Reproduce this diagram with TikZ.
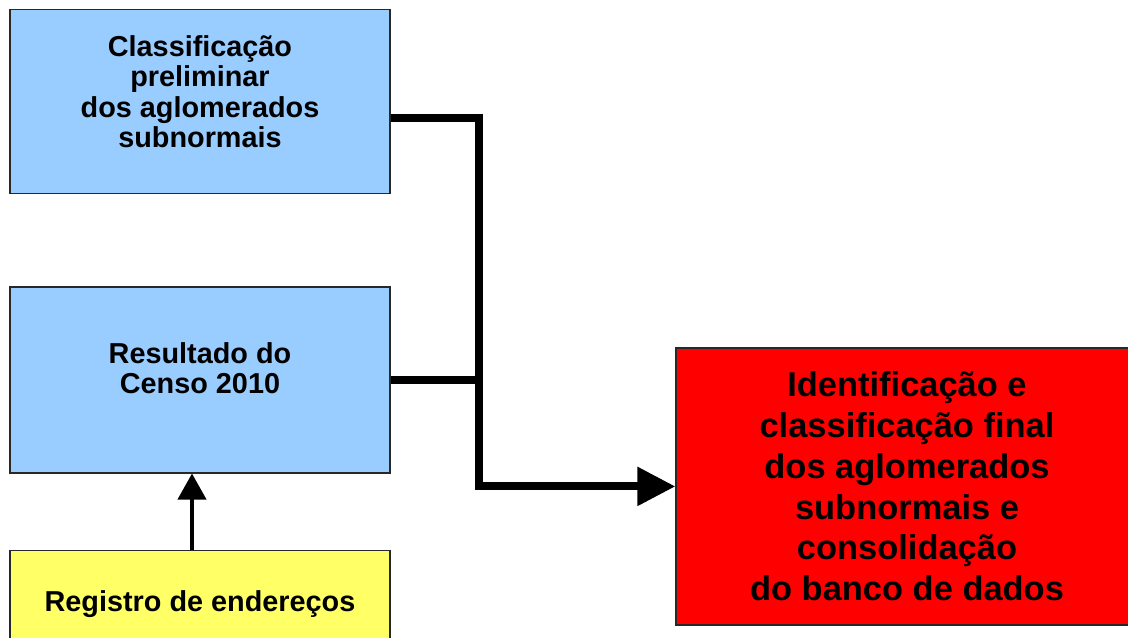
\documentclass[tikz,border=0pt]{standalone}
\usepackage{fontspec}
\setmainfont{Liberation Sans}
\definecolor{lightblue}{RGB}{153, 204, 255}
\definecolor{paleyellow}{RGB}{255, 255, 102}
\definecolor{brightred}{RGB}{255, 0, 0}
\definecolor{edgegray}{RGB}{40, 40, 40}
\usetikzlibrary{arrows.meta, positioning}

\begin{document}
\begin{tikzpicture}[
    box/.style={rectangle, draw=edgegray, line width=0.9pt, fill=lightblue,
                minimum width=9.5cm, align=center,
                font=\fontsize{20.5}{21.5}\selectfont\bfseries},
    conn/.style={line width=0.2cm, color=black},
    arr/.style={-{Triangle[length=0.65cm, width=0.7cm]}, line width=2.8pt, color=black}
  ]
    \useasboundingbox (0,0) rectangle (28.2,-15.925);

    \node[box, minimum height=4.6cm, text depth=0.5cm] (cls) at (5.0,-2.54)
      {Classificação\\preliminar\\dos aglomerados\\subnormais};
    \node[box, minimum height=4.65cm, text depth=0.6cm, below=2.3cm of cls] (res)
      {Resultado do\\Censo 2010};
    \node[box, minimum height=2.7cm, fill=paleyellow, below=1.9cm of res] (reg)
      {Registro de endereços};
    \node[box, minimum width=11.55cm, minimum height=6.925cm, fill=brightred,
          font=\fontsize{24.5}{29}\selectfont\bfseries] (fin) at (22.675,-12.16)
      {Identificação e\\classificação final\\dos aglomerados\\subnormais e\\consolidação\\do banco de dados};

    \coordinate (jn) at (11.975,0 |- fin.west);
    \coordinate (jr) at (res.east -| jn);

    \draw[conn, -{Triangle[length=0.95cm, width=0.93cm]}]
      ([yshift=-0.4cm]cls.east) -| (jn) -- (fin.west);
    \draw[conn] (res.east) -- (jr);
    \draw[arr] ([xshift=-0.2cm]reg.north) -- ([xshift=-0.2cm]res.south);
  \end{tikzpicture}
\end{document}
